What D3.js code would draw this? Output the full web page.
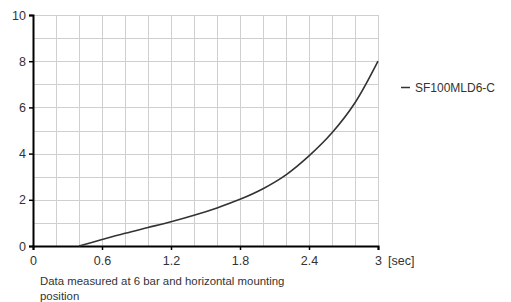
<!DOCTYPE html>
<html>
<head>
<meta charset="utf-8">
<script src="https://cdn.jsdelivr.net/npm/d3@7"></script>
<style>
  body { margin: 0; background: #fff; }
  text { font-family: "Liberation Sans", Arial, sans-serif; fill: #333; }
</style>
</head>
<body>
<script>
//curve values (time in sec, value)
var times = [0.4, 0.6, 0.8, 1.0, 1.2, 1.4, 1.6, 1.8, 2.0, 2.2, 2.4, 2.6, 2.8, 3.0];
var values = [0, 0.28, 0.55, 0.8, 1.05, 1.33, 1.65, 2.02, 2.48, 3.08, 3.9, 4.9, 6.2, 8.0];
var xTicks = [0, 0.6, 1.2, 1.8, 2.4, 3];
var yTicks = [0, 2, 4, 6, 8, 10];
var seriesName = "SF100MLD6-C";

var width = 511, height = 302;
var plotLeft = 33, plotRight = 378, plotTop = 15, plotBottom = 246;

var svg = d3.select('body').append('svg')
    .attr('width', width)
    .attr('height', height);

var x = d3.scaleLinear().domain([0, 3]).range([plotLeft, plotRight]);
var y = d3.scaleLinear().domain([0, 10]).range([plotBottom, plotTop]);

//grid lines: every 0.2 sec and every 1 unit
var grid = svg.append('g').attr('stroke', '#cfcfcf').attr('stroke-width', 1);
grid.selectAll('.vg')
    .data(d3.range(1, 16).map(function(i){ return i * 0.2; }))
    .enter().append('line')
    .attr('x1', function(d){ return Math.round(x(d)) + 0.5; })
    .attr('x2', function(d){ return Math.round(x(d)) + 0.5; })
    .attr('y1', plotTop).attr('y2', plotBottom);
grid.selectAll('.hg')
    .data(d3.range(1, 11))
    .enter().append('line')
    .attr('y1', function(d){ return Math.round(y(d)) + 0.5; })
    .attr('y2', function(d){ return Math.round(y(d)) + 0.5; })
    .attr('x1', plotLeft).attr('x2', plotRight);

//axes
var xAxis = svg.append('g')
    .attr('transform', 'translate(0,' + plotBottom + ')')
    .call(d3.axisBottom(x).tickValues(xTicks).tickSize(4).tickPadding(6)
        .tickFormat(function(d){ return d3.format('~g')(d); }));
var yAxis = svg.append('g')
    .attr('transform', 'translate(' + plotLeft + ',0)')
    .call(d3.axisLeft(y).tickValues(yTicks).tickSize(4).tickPadding(3));

[xAxis, yAxis].forEach(function(a){
    a.select('.domain').attr('stroke', '#000').attr('stroke-width', 2);
    a.selectAll('.tick line').attr('stroke', '#000').attr('stroke-width', 1.5);
    a.selectAll('.tick text').attr('font-size', 12.5).attr('fill', '#444')
        .style('font-family', '"Liberation Sans", Arial, sans-serif');
});

//curve
var line = d3.line()
    .x(function(d, i){ return x(times[i]); })
    .y(function(d){ return y(d); })
    .curve(d3.curveCatmullRom.alpha(0.5));

svg.append('path')
    .datum(values)
    .attr('fill', 'none')
    .attr('stroke', '#333')
    .attr('stroke-width', 1.6)
    .attr('d', line);

//unit label
svg.append('text')
    .attr('x', plotRight + 10).attr('y', 265)
    .attr('font-size', 12.5).attr('fill', '#444')
    .text('[sec]');

//legend
svg.append('line')
    .attr('x1', 401).attr('x2', 410)
    .attr('y1', 87.5).attr('y2', 87.5)
    .attr('stroke', '#333').attr('stroke-width', 1.5);
svg.append('text')
    .attr('x', 415).attr('y', 92)
    .attr('font-size', 12).attr('fill', '#444')
    .text(seriesName);

//note
svg.append('text')
    .attr('x', 40).attr('y', 285)
    .attr('font-size', 11.4).attr('fill', '#444')
    .text('Data measured at 6 bar and horizontal mounting');
svg.append('text')
    .attr('x', 40).attr('y', 300)
    .attr('font-size', 11.4).attr('fill', '#444')
    .text('position');
</script>
</body>
</html>
